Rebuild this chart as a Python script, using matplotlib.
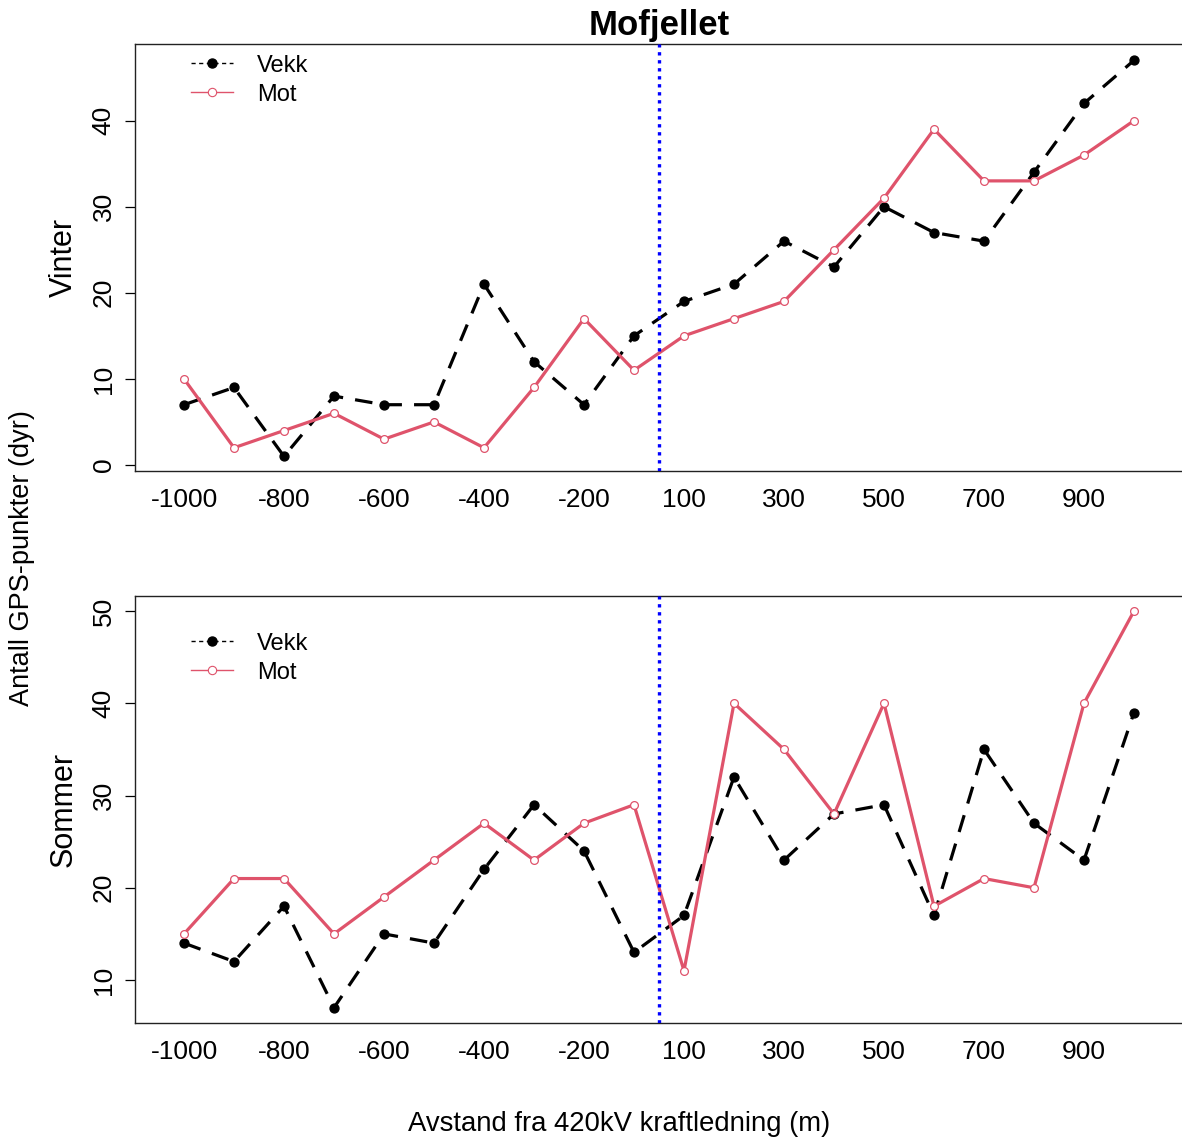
import matplotlib
matplotlib.use("Agg")
import matplotlib.pyplot as plt
from matplotlib.lines import Line2D

plt.rcParams['font.family'] = ['Liberation Sans', 'DejaVu Sans']

# ---- data ----
distances = [-1000, -900, -800, -700, -600, -500, -400, -300, -200, -100,
             100, 200, 300, 400, 500, 600, 700, 800, 900, 1000]
xtick_labels = ['-1000', '-800', '-600', '-400', '-200', '100', '300', '500', '700', '900']

vinter_vekk = [7, 9, 1, 8, 7, 7, 21, 12, 7, 15, 19, 21, 26, 23, 30, 27, 26, 34, 42, 47]
vinter_mot = [10, 2, 4, 6, 3, 5, 2, 9, 17, 11, 15, 17, 19, 25, 31, 39, 33, 33, 36, 40]
sommer_vekk = [14, 12, 18, 7, 15, 14, 22, 29, 24, 13, 17, 32, 23, 28, 29, 17, 35, 27, 23, 39]
sommer_mot = [15, 21, 21, 15, 19, 23, 27, 23, 27, 29, 11, 40, 35, 28, 40, 18, 21, 20, 40, 50]

vinter_yticks = [0, 10, 20, 30, 40]
sommer_yticks = [10, 20, 30, 40, 50]

series_names = ['Vekk', 'Mot']

pos = list(range(1, len(distances) + 1))
tick_pos = [pos[distances.index(int(l))] for l in xtick_labels]
line_pos = (pos[distances.index(-100)] + pos[distances.index(100)]) / 2

W, H = 1182, 1141
fig = plt.figure(figsize=(W / 100, H / 100), dpi=100)

RED = '#DF536B'

def make_ax(top_px, bot_px, ylim):
    left_px, right_px = 135, 1181
    ax = fig.add_axes([left_px / W, 1 - bot_px / H, (right_px - left_px) / W, (bot_px - top_px) / H])
    ax.set_xlim(1 - 49 / 50, 20 + 47 / 50)
    ax.set_ylim(*ylim)
    return ax

panels = [
    (44, 471, (-0.7, 48.9), vinter_vekk, vinter_mot, vinter_yticks, 'Vinter', 1.025),
    (596, 1023, (5.34, 51.63), sommer_vekk, sommer_mot, sommer_yticks, 'Sommer', 0.964),
]

axes = []
for top_px, bot_px, ylim, vekk, mot, yt, lab, leg_y in panels:
    ax = make_ax(top_px, bot_px, ylim)
    ax.plot(pos, vekk, color='black', lw=2.3, dashes=(5.5, 3.8), marker='o',
            markersize=6.4, markerfacecolor='black', markeredgecolor='black', zorder=3)
    ax.plot(pos, mot, color=RED, lw=2.3, marker='o', markersize=5.6,
            markerfacecolor='white', markeredgecolor=RED, markeredgewidth=0.9, zorder=3)
    ax.axvline(line_pos, color='blue', lw=2.4, dashes=(1, 1.4), zorder=4)
    ax.set_xticks(tick_pos)
    ax.set_xticklabels(xtick_labels, fontsize=19)
    ax.tick_params(axis='x', length=0, pad=12)
    ax.set_yticks(yt)
    ax.set_yticklabels([str(v) for v in yt], fontsize=19, rotation=90, va='center')
    ax.tick_params(axis='y', length=7, width=0.9, pad=7)
    for s in ['left', 'top', 'bottom']:
        ax.spines[s].set_linewidth(1.0)
        ax.spines[s].set_color('#222222')
    ax.spines['right'].set_visible(False)
    ax.set_ylabel(lab, fontsize=22, labelpad=9)
    handles = [
        Line2D([], [], color='black', lw=1, dashes=(3, 2.5), marker='o', markersize=6.5,
               markerfacecolor='black'),
        Line2D([], [], color=RED, lw=1, marker='o', markersize=6,
               markerfacecolor='white', markeredgecolor=RED, markeredgewidth=0.8),
    ]
    ax.legend(handles, series_names, loc='upper left', bbox_to_anchor=(0.033, leg_y),
              frameon=False, fontsize=17, handlelength=1.8, handletextpad=1.0,
              labelspacing=0.3)
    axes.append(ax)

fig.text(659 / W, 1 - 26 / H, 'Mofjellet', fontsize=25, fontweight='bold',
         ha='center', va='center')
fig.text(22 / W, 1 - 558 / H, 'Antall GPS-punkter (dyr)', fontsize=19.5,
         rotation=90, ha='center', va='center')
fig.text(619 / W, 1 - 1124 / H, 'Avstand fra 420kV kraftledning (m)', fontsize=19.8,
         ha='center', va='center')

fig.savefig('out.png', dpi=100)
